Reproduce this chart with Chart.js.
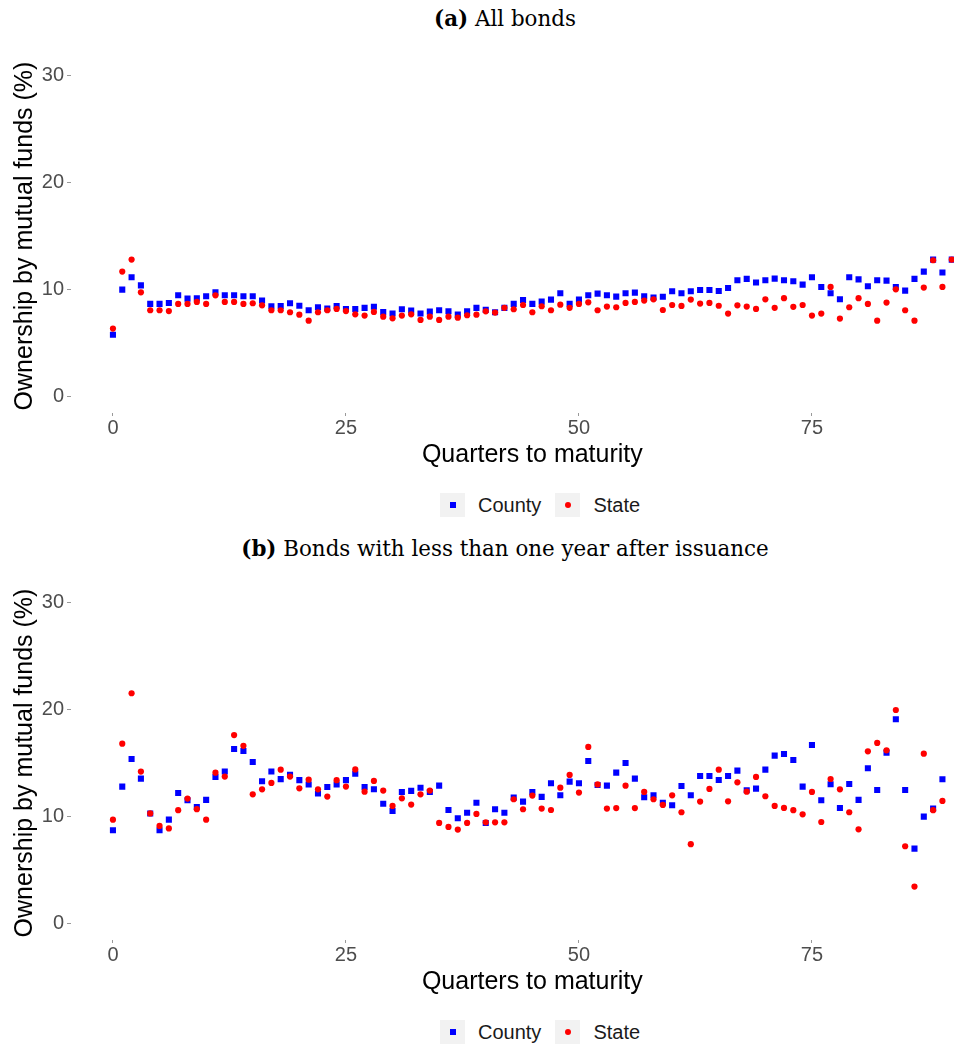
<!DOCTYPE html>
<html>
<head>
<meta charset="utf-8">
<script src="https://cdn.jsdelivr.net/npm/chart.js@4.4.1/dist/chart.umd.min.js"></script>
<style>
body { margin:0; background:#fff; width:954px; height:1047px; overflow:hidden; position:relative; font-family:"Liberation Sans", Arial, sans-serif; }
.cap { position:absolute; left:0; width:1010px; text-align:center; font-family:"DejaVu Serif", serif; font-size:21.4px; color:#000; }
.wrap { position:absolute; left:0; width:998px; height:480px; }
.legend { position:absolute; left:440px; display:flex; align-items:center; font-size:20px; color:#1a1a1a; }
.key { width:25px; height:24px; background:#f2f2f2; display:flex; align-items:center; justify-content:center; margin-right:13px; }
.sq { width:6px; height:6px; background:#0000ff; }
.dot { width:6px; height:6px; border-radius:50%; background:#ff0000; }
</style>
</head>
<body>

<div class="cap" style="top:6px"><b>(a)</b> All bonds</div>
<div class="wrap" style="top:0"><canvas id="chartA" width="998" height="480"></canvas></div>
<div class="legend" style="top:493px">
  <div class="key"><div class="sq"></div></div><span style="margin-right:14px">County</span>
  <div class="key"><div class="dot"></div></div><span>State</span>
</div>

<div class="cap" style="top:536px"><b>(b)</b> Bonds with less than one year after issuance</div>
<div class="wrap" style="top:527px"><canvas id="chartB" width="998" height="480"></canvas></div>
<div class="legend" style="top:1020px">
  <div class="key"><div class="sq"></div></div><span style="margin-right:14px">County</span>
  <div class="key"><div class="dot"></div></div><span>State</span>
</div>

<script>
var quarters = [0,1,2,3,4,5,6,7,8,9,10,11,12,13,14,15,16,17,18,19,20,21,22,23,24,25,26,27,28,29,
  30,31,32,33,34,35,36,37,38,39,40,41,42,43,44,45,46,47,48,49,50,51,52,53,54,55,56,57,58,59,
  60,61,62,63,64,65,66,67,68,69,70,71,72,73,74,75,76,77,78,79,80,81,82,83,84,85,86,87,88,89,90];

// (a) all bonds
var countyAll = [5.8,10.0,11.15,10.4,8.67,8.67,8.76,9.47,9.16,9.2,
  9.38,9.75,9.47,9.47,9.38,9.38,8.98,8.45,8.48,8.73,
  8.5,8.08,8.36,8.24,8.48,8.2,8.2,8.3,8.4,7.9,
  7.77,8.17,8.05,7.77,7.95,8.08,7.99,7.67,7.99,8.3,
  8.11,7.89,8.3,8.67,9.04,8.67,8.88,9.07,9.66,8.67,
  9.07,9.47,9.63,9.47,9.35,9.66,9.72,9.38,9.26,9.33,
  9.85,9.66,9.85,9.97,9.97,9.88,10.16,10.87,11.0,10.66,
  10.87,11.03,10.87,10.78,10.47,11.15,10.25,9.66,9.1,11.15,
  10.96,10.31,10.87,10.84,10.25,9.91,11.0,11.68,12.8,11.6,12.8];
var stateAll = [6.37,11.68,12.8,9.75,8.08,8.08,8.0,8.67,8.67,8.85,
  8.67,9.47,8.85,8.85,8.67,8.73,8.54,8.08,8.08,7.89,
  7.67,7.11,7.89,8.08,8.2,8.0,7.7,7.58,7.92,7.48,
  7.33,7.58,7.7,7.18,7.48,7.18,7.48,7.39,7.61,7.67,
  7.98,7.86,8.3,8.17,8.57,7.89,8.45,8.08,8.6,8.3,
  8.67,8.82,8.08,8.42,8.36,8.76,8.85,8.98,9.1,8.1,
  8.57,8.48,9.07,8.7,8.76,8.5,7.77,8.54,8.42,8.2,
  9.1,8.3,9.2,8.4,8.57,7.58,7.77,10.25,7.3,8.36,
  9.2,8.67,7.11,8.79,10.03,8.08,7.11,10.19,12.74,10.25,12.8];

// (b) bonds with less than one year after issuance
var countyNew = [8.73,12.8,15.38,13.54,10.3,8.73,9.72,12.2,11.53,10.9,
  11.56,13.7,14.2,16.3,16.12,15.1,13.3,14.2,13.5,13.9,
  13.4,13.0,12.15,12.77,13.0,13.4,14.0,12.77,12.55,11.2,
  10.53,12.3,12.4,12.7,12.3,12.89,10.62,9.85,10.37,11.3,
  9.41,10.69,10.37,11.77,11.4,12.3,11.84,13.11,11.99,13.26,
  13.11,15.19,12.95,12.89,14.1,15.0,13.54,11.8,11.99,11.3,
  11.06,12.86,11.99,13.79,13.79,13.42,13.79,14.29,12.46,12.61,
  14.38,15.69,15.84,15.28,12.8,16.68,11.53,13.02,10.81,13.05,
  11.56,14.51,12.49,15.97,19.08,12.49,7.02,10.0,10.75,13.48];
var stateNew = [9.72,16.8,21.5,14.2,10.3,9.13,8.9,10.6,11.68,10.7,
  9.72,14.1,13.73,17.6,16.6,12.08,12.55,13.14,14.38,13.73,
  12.64,13.45,12.55,11.87,13.4,12.8,14.4,12.33,13.33,12.43,
  11.0,11.71,11.12,12.08,12.43,9.41,9.04,8.79,9.41,10.25,
  9.47,9.47,9.47,11.62,10.69,11.96,10.75,10.62,12.7,13.89,
  12.24,16.5,13.0,10.75,10.8,12.89,10.8,12.3,11.62,11.09,
  11.99,10.41,7.43,11.4,12.58,14.38,11.43,13.2,12.33,13.7,
  11.9,11.0,10.81,10.6,10.22,12.3,9.5,13.51,12.55,10.41,
  8.82,16.09,16.87,16.18,19.94,7.24,3.48,15.87,10.6,11.46];

var xTicks = [0, 25, 50, 75];
var yTicks = [0, 10, 20, 30];

function toPoints(vals) {
    return vals.map((v, i) => ({ x: quarters[i], y: v }));
}

function buildChart(id, county, state) {
    var ctx = document.getElementById(id);
    return new Chart(ctx, {
        type: 'scatter',
        data: {
            datasets: [{
                label: 'County',
                data: toPoints(county),
                pointStyle: 'rect',
                pointRadius: 4.3,
                backgroundColor: '#0000ff',
                borderWidth: 0,
                order: 2
            }, {
                label: 'State',
                data: toPoints(state),
                pointStyle: 'circle',
                pointRadius: 3.1,
                backgroundColor: '#ff0000',
                borderWidth: 0,
                order: 1
            }]
        },
        options: {
            responsive: false,
            animation: false,
            layout: { padding: { top: 59, left: 0, right: 0, bottom: 0 } },
            plugins: { legend: { display: false }, tooltip: { enabled: false } },
            scales: {
                x: {
                    type: 'linear',
                    min: -4.5,
                    max: 94.5,
                    afterBuildTicks: s => { s.ticks = xTicks.map(v => ({ value: v })); },
                    afterFit: s => { s.height = 67; },
                    grid: { drawOnChartArea: false, tickLength: 3, color: '#999' },
                    border: { display: false },
                    ticks: { color: '#4d4d4d', font: { family: 'Liberation Sans', size: 20 }, padding: 0, maxRotation: 0 },
                    title: {
                        display: true,
                        text: 'Quarters to maturity',
                        color: '#000',
                        font: { family: 'Liberation Sans', size: 25 },
                        padding: { top: 0, bottom: 10 }
                    }
                },
                y: {
                    type: 'linear',
                    min: -1.5,
                    max: 31.5,
                    afterBuildTicks: s => { s.ticks = yTicks.map(v => ({ value: v })); },
                    afterFit: s => { s.width = 71; },
                    grid: { drawOnChartArea: false, tickLength: 4, color: '#999' },
                    border: { display: false },
                    ticks: { color: '#4d4d4d', font: { family: 'Liberation Sans', size: 20 }, padding: 3 },
                    title: {
                        display: true,
                        text: 'Ownership by mutual funds (%)',
                        color: '#000',
                        font: { family: 'Liberation Sans', size: 25 },
                        padding: { top: 10, bottom: 0 }
                    }
                }
            }
        }
    });
}

buildChart('chartA', countyAll, stateAll);
buildChart('chartB', countyNew, stateNew);
</script>
</body>
</html>
